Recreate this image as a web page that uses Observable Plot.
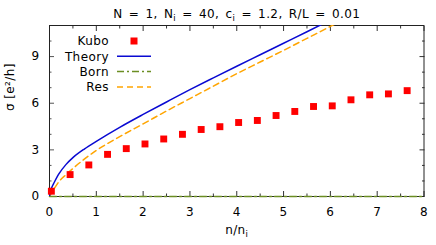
<!DOCTYPE html>
<html><head><meta charset="utf-8">
<script src="https://cdn.jsdelivr.net/npm/d3@7"></script>
<script src="https://cdn.jsdelivr.net/npm/@observablehq/plot@0.6"></script>
<style>body{margin:0;background:#fff;} svg{font-family:"DejaVu Sans",sans-serif;}</style>
</head><body><div id="chart"></div>
<script>
// ---- data ----
const title = "N = 1, N_i = 40, c_i = 1.2, R/L = 0.01";
const xLabel = "n/n_i";
const yLabel = "σ [e²/h]";
const seriesNames = ["Kubo", "Theory", "Born", "Res"];
const xTicks = [0, 1, 2, 3, 4, 5, 6, 7, 8];
const yTicks = [0, 3, 6, 9];

const kuboX = [0.04, 0.44, 0.84, 1.24, 1.64, 2.04, 2.44, 2.84, 3.24, 3.64, 4.04, 4.44, 4.84, 5.24, 5.64, 6.04, 6.44, 6.84, 7.24, 7.64];
const kuboY = [0.34, 1.41, 2.03, 2.71, 3.08, 3.38, 3.70, 4.00, 4.31, 4.49, 4.76, 4.89, 5.21, 5.47, 5.79, 5.83, 6.22, 6.54, 6.60, 6.81];

const theoryX = [0, 0.02, 0.05, 0.1, 0.2, 0.35, 0.5, 0.75, 1, 1.5, 2, 2.5, 3, 3.5, 4, 4.5, 5, 5.5, 6];
const theoryY = [0, 0.35, 0.6, 0.9, 1.45, 2.05, 2.5, 3.07, 3.55, 4.45, 5.28, 6.08, 6.87, 7.63, 8.38, 9.12, 9.86, 10.6, 11.35];

const resX = [0, 0.03, 0.1, 0.2, 0.35, 0.5, 0.75, 1, 1.5, 2, 2.5, 3, 3.5, 4, 4.5, 5, 5.5, 6, 6.2];
const resY = [0, 0.15, 0.5, 0.95, 1.4, 1.8, 2.42, 2.96, 3.85, 4.67, 5.5, 6.3, 7.1, 7.9, 8.65, 9.4, 10.17, 10.94, 11.25];

const bornX = [0, 1, 2, 3, 4, 5, 6, 7, 8];
const bornY = [0, 0, 0, 0, 0, 0, 0, 0, 0];

// ---- styling ----
const colors = {Kubo: "#ff0000", Theory: "#0a0ad2", Born: "#6b8e23", Res: "#ffa500"};
const dashes = {Theory: null, Born: "7,3,2,3", Res: "6,4"};
const FS = 12, LS = "0.4px";

const kubo = kuboX.map((x, i) => ({x, y: kuboY[i]}));
const theory = theoryX.map((x, i) => ({x, y: theoryY[i]}));
const res = resX.map((x, i) => ({x, y: resY[i]}));
const born = bornX.map((x, i) => ({x, y: bornY[i]}));

const W = 436, H = 245, mL = 49, mR = 12.5, mT = 25, mB = 49;
const xMinor = d3.range(0.5, 8, 1);
const yMinor = [1, 2, 4, 5, 7, 8, 10];
const blank = () => "";

const plot = Plot.plot({
  width: W, height: H,
  marginLeft: mL, marginRight: mR, marginTop: mT, marginBottom: mB,
  style: {fontFamily: "DejaVu Sans, sans-serif", fontSize: FS + "px", background: "white", color: "#000", letterSpacing: LS},
  x: {domain: [0, 8]},
  y: {domain: [0, 11]},
  marks: [
    // labels
    Plot.axisX({ticks: xTicks, tickSize: 0, tickPadding: 11, label: null, fontSize: FS}),
    Plot.axisY({ticks: yTicks, tickSize: 0, tickPadding: 10, label: null, fontSize: FS}),
    // inward ticks, all four sides
    Plot.axisX({anchor: "bottom", ticks: xTicks, tickSize: -5, tickFormat: blank, label: null, stroke: "#333"}),
    Plot.axisX({anchor: "bottom", ticks: xMinor, tickSize: -2.5, tickFormat: blank, label: null, stroke: "#333"}),
    Plot.axisX({anchor: "top", ticks: xTicks, tickSize: -5, tickFormat: blank, label: null, stroke: "#333"}),
    Plot.axisX({anchor: "top", ticks: xMinor, tickSize: -2.5, tickFormat: blank, label: null, stroke: "#333"}),
    Plot.axisY({anchor: "left", ticks: yTicks, tickSize: -5, tickFormat: blank, label: null, stroke: "#555"}),
    Plot.axisY({anchor: "left", ticks: yMinor, tickSize: -2.5, tickFormat: blank, label: null, stroke: "#555"}),
    Plot.axisY({anchor: "right", ticks: yTicks, tickSize: -5, tickFormat: blank, label: null, stroke: "#333"}),
    Plot.axisY({anchor: "right", ticks: yMinor, tickSize: -2.5, tickFormat: blank, label: null, stroke: "#333"}),
    Plot.frame({stroke: "#222"}),
    // data
    Plot.line(born, {x: "x", y: "y", stroke: colors.Born, strokeWidth: 1.5, strokeDasharray: dashes.Born}),
    Plot.line(res, {x: "x", y: "y", stroke: colors.Res, strokeWidth: 1.5, strokeDasharray: dashes.Res, clip: true, curve: "monotone-x"}),
    Plot.line(theory, {x: "x", y: "y", stroke: colors.Theory, strokeWidth: 1.5, clip: true, curve: "monotone-x"}),
    Plot.dot(kubo, {x: "x", y: "y", symbol: "square", r: 3.9, fill: colors.Kubo, stroke: null}),
    // texts
    Plot.text([title], {frameAnchor: "top", dy: -16.5, fontSize: FS, fill: "#000", className: "sub-text title-text"}),
    Plot.text([xLabel], {frameAnchor: "bottom", dy: 37, fontSize: FS, fill: "#000", className: "sub-text"}),
    Plot.text([yLabel], {frameAnchor: "left", dx: -39, rotate: -90, fontSize: FS, fill: "#000"})
  ]
});

// ---- subscripts: turn "_i" into a real lowered small "i" ----
d3.select(plot).selectAll(".sub-text text").each(function () {
  const el = d3.select(this);
  const parts = el.text().split("_i");
  el.text(null);
  parts.forEach((p, k) => {
    if (k > 0) {
      el.append("tspan").attr("dy", 3).attr("font-size", 8.5).text("i");
      el.append("tspan").attr("dy", -3).text(p);
    } else {
      el.append("tspan").text(p);
    }
  });
});
d3.select(plot).selectAll(".title-text text").attr("word-spacing", "2px");

// ---- legend inside the frame (top-left) ----
const svg = d3.select(plot);
const lg = svg.append("g").attr("font-family", "DejaVu Sans, sans-serif").attr("font-size", FS).attr("letter-spacing", LS);
const rowY0 = mT + 16, rowDy = 15.3, textRight = mL + 60, sx1 = mL + 68, sx2 = mL + 102;
seriesNames.forEach((name, i) => {
  const yy = rowY0 + i * rowDy;
  lg.append("text").attr("x", textRight).attr("y", yy).attr("dy", "0.35em").attr("text-anchor", "end").attr("fill", "#000").text(name);
  if (name === "Kubo") {
    lg.append("rect").attr("x", (sx1 + sx2) / 2 - 3.5).attr("y", yy - 3.5).attr("width", 7).attr("height", 7).attr("fill", colors.Kubo);
  } else {
    lg.append("line").attr("x1", sx1).attr("x2", sx2).attr("y1", yy).attr("y2", yy)
      .attr("stroke", colors[name]).attr("stroke-width", 1.5)
      .attr("stroke-dasharray", dashes[name]);
  }
});

document.getElementById("chart").append(plot);
</script>
</body></html>
